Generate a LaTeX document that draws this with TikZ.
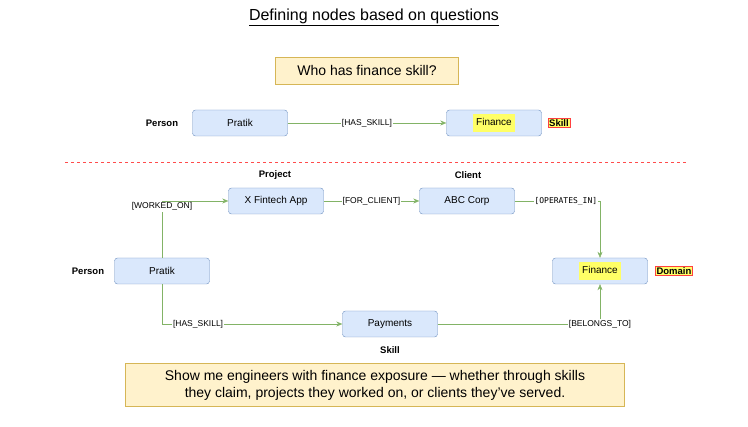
\documentclass[tikz,border=0pt]{standalone}
\usepackage{fontspec}
\setmainfont{Liberation Sans}
\setmonofont{DejaVu Sans Mono}
\usetikzlibrary{arrows.meta}
\definecolor{boxfill}{HTML}{DAE8FC}
\definecolor{boxdraw}{HTML}{6C8EBF}
\definecolor{notefill}{HTML}{FFF2CC}
\definecolor{notedraw}{HTML}{D6B656}
\definecolor{linkgreen}{HTML}{82B366}
\definecolor{hiyellow}{HTML}{FFFF66}
\begin{document}
\begin{tikzpicture}[x=1pt,y=-1pt,font=\fontsize{10}{12}\selectfont]
    \tikzstyle{entity}=[draw=boxdraw,fill=boxfill,rounded corners=3pt,minimum width=95pt,minimum height=26pt,inner sep=0]
    \tikzstyle{note}=[draw=notedraw,fill=notefill,align=center,font=\fontsize{14}{17}\selectfont]
    \tikzstyle{kind}=[font=\fontsize{9.5}{11}\selectfont\bfseries]
    \tikzstyle{tag}=[kind,draw=red!75,fill=hiyellow,inner sep=1pt]
    \tikzstyle{link}=[draw=linkgreen,-{Stealth[length=6pt,width=5pt]}]
    \tikzstyle{rel}=[fill=white,inner sep=1pt,font=\fontsize{8.5}{10}\selectfont]
    \useasboundingbox (0,0) rectangle (748,427);

    \node(title)[font=\fontsize{16}{19}\selectfont] at (374,17) {\underline{Defining nodes based on questions}};
    \node(ask)[note,minimum width=183pt,minimum height=27pt] at (367,71) {Who has finance skill?};

    % simple question
    \node(p1)[entity] at (240,123) {Pratik};
    \node(f1)[entity] at (494,123) {\colorbox{hiyellow}{\strut Finance}};
    \node(p1k)[kind] at (162,123) {Person};
    \node(f1k)[tag] at (559,123) {Skill};
    \draw[link](p1)--(f1) node[rel,midway]{[HAS\_SKILL]};

    \draw[red!70,dashed,thick](65,162)--(686,162);

    % richer question
    \node(app)[entity] at (276,201) {X Fintech App};
    \node(abc)[entity] at (467,201) {ABC Corp};
    \node(p2)[entity] at (162,271) {Pratik};
    \node(f2)[entity] at (600,271) {\colorbox{hiyellow}{\strut Finance}};
    \node(pay)[entity] at (390,324) {Payments};
    \node[kind] at (275,175) {Project};
    \node[kind] at (468,175) {Client};
    \node[kind] at (88,271) {Person};
    \node[tag] at (674,271) {Domain};
    \node[kind] at (390,350) {Skill};

    \draw[link](p2.north)|-(app.west) node[rel,pos=0.45]{[WORKED\_ON]};
    \draw[link](app)--(abc) node[rel,midway]{[FOR\_CLIENT]};
    \draw[link](abc.east)-|(f2.north) node[rel,pos=0.3,font=\ttfamily\fontsize{8}{10}\selectfont]{[OPERATES\_IN]};
    \draw[link](p2.south)|-(pay.west) node[rel,pos=0.6]{[HAS\_SKILL]};
    \draw[link](pay.east)-|(f2.south) node[rel,pos=0.5]{[BELONGS\_TO]};

    \node(show)[note,minimum width=499pt,minimum height=43pt] at (375,385) {Show me engineers with finance exposure — whether through skills\\they claim, projects they worked on, or clients they've served.};
\end{tikzpicture}
\end{document}
